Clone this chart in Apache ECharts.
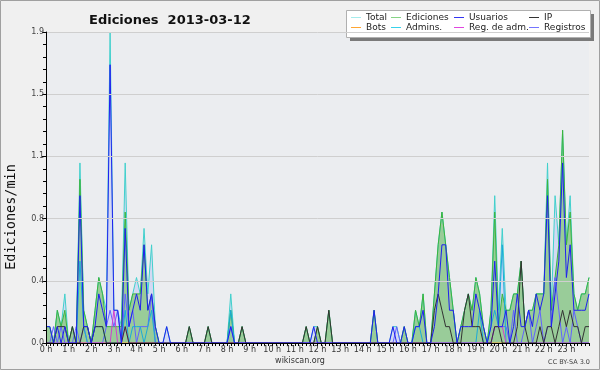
<!DOCTYPE html>
<html><head><meta charset="utf-8">
<script src="https://cdn.jsdelivr.net/npm/echarts@6/dist/echarts.min.js"></script>
<style>html,body{margin:0;padding:0;background:#f0f0f0}#c{width:600px;height:370px}</style>
</head><body><div id="c"></div>
<script>
// 10-minute bins from 0:00 to 24:00 (values are edits per minute)
const hourLabels = ['0 h','1 h','2 h','3 h','4 h','5 h','6 h','7 h','8 h','9 h','10 h','11 h','12 h','13 h','14 h','15 h','16 h','17 h','18 h','19 h','20 h','21 h','22 h','23 h'];
const total = [
0.1,0.1,0,0.2,0.1,0.3, 0,0.1,0,1.1,0.2,0.1, 0,0.2,0.4,0.3,0.2,1.9, 0.2,0.2,0.1,1.1,0.2,0.3,
0.4,0.3,0.7,0.3,0.6,0.1, 0,0,0.1,0,0,0, 0,0,0.1,0,0,0, 0,0.1,0,0,0,0,
0,0.3,0,0,0.1,0, 0,0,0,0,0,0, 0,0,0,0,0,0, 0,0,0,0.1,0,0.1,
0.1,0,0,0.2,0,0, 0,0,0,0,0,0, 0,0,0,0.2,0,0, 0,0,0.1,0.1,0,0.1,
0,0,0.2,0.1,0.3,0, 0,0.3,0.6,0.8,0.6,0.4, 0.2,0,0.1,0.2,0.3,0.2, 0.4,0.3,0.1,0,0.2,0.9,
0.2,0.7,0.2,0.2,0.3,0.3, 0.5,0.1,0.2,0.2,0.3,0.3, 0.3,1.1,0.2,0.9,0.6,1.3, 0.6,0.9,0.3,0.2,0.3,0.3,
0.4];
const edits = [
0.1,0.1,0,0.2,0.1,0.2, 0,0.1,0,1.0,0.2,0.1, 0,0.2,0.4,0.3,0.1,0.1, 0.1,0.1,0.1,0.8,0.2,0.3,
0.3,0.3,0.6,0.2,0.3,0.1, 0,0,0,0,0,0, 0,0,0.1,0,0,0, 0,0.1,0,0,0,0,
0,0.2,0,0,0.1,0, 0,0,0,0,0,0, 0,0,0,0,0,0, 0,0,0,0.1,0,0,
0.1,0,0,0.2,0,0, 0,0,0,0,0,0, 0,0,0,0.2,0,0, 0,0,0,0,0,0.1,
0,0,0.2,0.1,0.3,0, 0,0.3,0.6,0.8,0.6,0.4, 0.2,0,0.1,0.2,0.3,0.2, 0.4,0.3,0.1,0,0.2,0.8,
0.1,0.3,0.2,0.2,0.3,0.3, 0.5,0.1,0.2,0.2,0.3,0.3, 0.3,1.0,0.2,0.4,0.6,1.3, 0.6,0.8,0.3,0.2,0.3,0.3,
0.4];
const users = [
0.1,0.1,0,0.1,0,0.1, 0,0,0,0.9,0.1,0.1, 0,0.1,0.3,0.2,0.1,1.7, 0.2,0.2,0,0.7,0.1,0.2,
0.3,0.2,0.6,0.2,0.3,0.1, 0,0,0.1,0,0,0, 0,0,0,0,0,0, 0,0,0,0,0,0,
0,0.1,0,0,0,0, 0,0,0,0,0,0, 0,0,0,0,0,0, 0,0,0,0,0,0.1,
0,0,0,0,0,0, 0,0,0,0,0,0, 0,0,0,0.2,0,0, 0,0,0.1,0,0,0.1,
0,0,0.1,0.1,0.2,0, 0,0.1,0.3,0.6,0.6,0.2, 0.2,0,0.1,0.1,0.1,0.1, 0.3,0.2,0.1,0,0.1,0.5,
0.1,0.1,0.2,0,0.1,0.3, 0.1,0.1,0.2,0.1,0.3,0.2, 0.3,0.9,0.1,0.3,0.5,1.1, 0.4,0.6,0.2,0.2,0.2,0.2,
0.3];
const ip = [
0,0,0,0.1,0.1,0.1, 0,0.1,0,0,0.1,0.1, 0,0.1,0.1,0.1,0,0, 0,0,0,0.1,0,0,
0,0,0,0,0,0, 0,0,0,0,0,0, 0,0,0.1,0,0,0, 0,0.1,0,0,0,0,
0,0,0,0,0.1,0, 0,0,0,0,0,0, 0,0,0,0,0,0, 0,0,0,0.1,0,0,
0.1,0,0,0.2,0,0, 0,0,0,0,0,0, 0,0,0,0,0,0, 0,0,0,0,0,0,
0,0,0,0,0,0, 0,0.2,0.3,0.2,0.1,0.1, 0,0,0,0.2,0.3,0.1, 0.1,0.1,0,0,0,0.1,
0.1,0,0,0,0,0.1, 0.5,0.1,0,0,0,0.1, 0,0.1,0.1,0,0.1,0.2, 0.1,0.2,0.1,0.1,0,0.1,
0.1];
const bots = [
0,0,0,0,0,0, 0,0,0,0,0,0, 0,0,0,0,0,0, 0,0,0,0,0,0,
0,0,0,0,0,0, 0,0,0,0,0,0, 0,0,0,0,0,0, 0,0,0,0,0,0,
0,0,0,0,0,0, 0,0,0,0,0,0, 0,0,0,0,0,0, 0,0,0,0,0,0,
0,0,0,0,0,0, 0,0,0,0,0,0, 0,0,0,0,0,0, 0,0,0,0,0,0,
0,0,0,0,0,0, 0,0,0,0,0,0, 0,0,0,0,0,0, 0,0,0,0,0,0,
0,0,0,0,0,0, 0,0,0,0,0,0, 0,0,0,0,0,0, 0,0,0,0,0,0,
0];
const admins = [
0,0,0,0,0,0, 0,0,0,0.5,0.1,0, 0,0.1,0.1,0.1,0,0, 0,0,0,0.2,0,0.1,
0.1,0.1,0,0.1,0.2,0, 0,0,0,0,0,0, 0,0,0,0,0,0, 0,0,0,0,0,0,
0,0.2,0,0,0,0, 0,0,0,0,0,0, 0,0,0,0,0,0, 0,0,0,0,0,0,
0,0,0,0,0,0, 0,0,0,0,0,0, 0,0,0,0,0,0, 0,0,0,0,0,0,
0,0,0.1,0.1,0,0, 0,0,0,0,0,0, 0,0,0,0,0,0, 0,0.2,0,0,0.1,0.2,
0.1,0.6,0,0,0,0, 0,0,0,0,0,0, 0,0,0,0,0,0, 0,0,0,0,0,0,
0];
const regAdm = [
0,0,0,0,0,0, 0,0,0,0,0,0, 0,0,0,0,0,0, 0.2,0,0,0.1,0,0,
0,0,0,0,0,0, 0,0,0,0,0,0, 0,0,0,0,0,0, 0,0,0,0,0,0,
0,0,0,0,0,0, 0,0,0,0,0,0, 0,0,0,0,0,0, 0,0,0,0,0,0,
0,0,0,0,0,0, 0,0,0,0,0,0, 0,0,0,0,0,0, 0,0,0,0,0,0,
0,0,0,0,0,0, 0,0,0,0,0,0, 0,0,0,0,0,0, 0,0,0,0,0,0.1,
0.1,0.1,0,0,0,0, 0,0,0,0,0,0, 0,0,0,0,0,0, 0,0,0,0,0,0,
0];
const registros = [
0,0,0.1,0,0.1,0, 0,0,0.1,0,0.1,0, 0,0,0,0,0.1,0.2, 0.1,0.2,0,0.3,0.1,0.2,
0,0.1,0.1,0.1,0.3,0, 0,0,0,0,0,0, 0,0,0,0,0,0, 0,0,0,0,0,0,
0,0.1,0,0,0,0, 0,0,0,0,0,0, 0,0,0,0,0,0, 0,0,0,0,0,0,
0,0,0,0,0,0, 0,0,0,0,0,0, 0,0,0,0,0,0, 0,0,0,0.1,0,0,
0,0,0,0,0,0, 0,0,0,0,0,0, 0,0,0,0,0,0, 0,0,0,0,0,0.1,
0.1,0.1,0.1,0,0.2,0, 0,0.1,0.2,0,0.1,0.2, 0,0.1,0.1,0.4,0.2,0, 0.1,0,0.2,0.1,0,0,
0];
const legendNames = ['Total','Ediciones','Usuarios','IP','Bots','Admins.','Reg. de adm.','Registros'];
const legendColors = ['#a6ecec','#86d486','#3434f2','#333333','#ffa634','#38d2ea','#e046e0','#7474ff'];
const yTicks = [0, 0.38, 0.76, 1.14, 1.52, 1.9];

const pairs = arr => arr.map((v, i) => [i, v]);
const chart = echarts.init(document.getElementById('c'), null, {renderer: 'canvas'});

function lineSeries(name, data, color, extra) {
  return Object.assign({
    name, type: 'line', data: pairs(data), showSymbol: false, symbol: 'none',
    color, lineStyle: {color, width: 1}, animation: false, z: 2
  }, extra || {});
}

const legendPos = [[351,13],[391,13],[454,13],[529,13],[351,23],[391,23],[454,23],[529,23]];
const legends = legendNames.map((n, k) => ({
  data: [{name: n, icon: 'rect', itemStyle: {color: legendColors[k], borderWidth: 0},
          lineStyle: {color: legendColors[k], width: 1}}],
  left: legendPos[k][0], top: legendPos[k][1], padding: 0,
  icon: 'rect', itemWidth: 10, itemHeight: 1, itemGap: 0, selectedMode: false, z: 6,
  itemStyle: {color: legendColors[k], borderWidth: 0},
  lineStyle: {color: legendColors[k], width: 1},
  textStyle: {fontFamily: 'DejaVu Sans', fontSize: 9, color: '#222', padding: [0,0,0,0]}
}));

chart.setOption({
  backgroundColor: '#f0f0f0',
  animation: false,
  title: {text: 'Ediciones  2013-03-12', left: 84, top: 9,
    textStyle: {fontFamily: 'DejaVu Sans', fontWeight: 'bold', fontSize: 13, color: '#111'}},
  legend: legends,
  grid: {left: 46, right: 11, top: 32, bottom: 27, show: true, backgroundColor: '#ebedf0', borderWidth: 0},
  xAxis: {
    type: 'value', min: 0, max: 144, interval: 6, z: 10,
    axisLine: {show: true, onZero: false, lineStyle: {color: '#000', width: 1}},
    axisTick: {show: true, length: 3, lineStyle: {color: '#000'}},
    minorTick: {show: true, splitNumber: 6, length: 3, lineStyle: {color: '#000'}},
    splitLine: {show: false},
    axisLabel: {formatter: v => hourLabels[v / 6] || '', showMaxLabel: false, fontFamily: 'DejaVu Sans', fontSize: 8, color: '#333', margin: 3}
  },
  yAxis: {
    type: 'value', min: yTicks[0], max: yTicks[yTicks.length - 1], interval: yTicks[1], z: 10,
    axisLine: {show: true, lineStyle: {color: '#000', width: 1}},
    axisTick: {show: true, length: 4, lineStyle: {color: '#000'}},
    minorTick: {show: true, splitNumber: 5, length: 3, lineStyle: {color: '#000'}},
    splitLine: {show: true, lineStyle: {color: '#cfcfcf', width: 1}},
    axisLabel: {formatter: v => v.toFixed(1), fontFamily: 'DejaVu Sans', fontSize: 8, color: '#444', margin: 2}
  },
  graphic: [
    {type: 'rect', shape: {x: 0.5, y: 0.5, width: 599, height: 369}, style: {fill: 'none', stroke: '#a0a0a0', lineWidth: 1}, z: 1},
    {type: 'rect', shape: {x: 350, y: 14, width: 244, height: 27}, style: {fill: '#7a7a7a'}, z: 3},
    {type: 'rect', shape: {x: 346.5, y: 10.5, width: 244, height: 27}, style: {fill: '#ffffff', stroke: '#b0b0b0', lineWidth: 1}, z: 4},
    {type: 'text', x: 11, y: 217, rotation: Math.PI / 2, style: {text: 'Ediciones/min', fontFamily: 'DejaVu Sans Mono', fontSize: 13.5, fill: '#111', align: 'center', verticalAlign: 'middle'}, z: 5},
    {type: 'text', x: 300, y: 361, style: {text: 'wikiscan.org', fontFamily: 'DejaVu Sans', fontSize: 8, fill: '#333', align: 'center', verticalAlign: 'middle'}, z: 5},
    {type: 'text', x: 590, y: 362, style: {text: 'CC BY-SA 3.0', fontFamily: 'DejaVu Sans', fontSize: 6.5, fill: '#444', align: 'right', verticalAlign: 'middle'}, z: 5}
  ],
  series: [
    lineSeries('Total', total, '#40d0cc', {areaStyle: {color: '#d3d9f3', opacity: 1}}),
    lineSeries('Ediciones', edits, '#3cb43c', {areaStyle: {color: '#99cc99', opacity: 1}}),
    lineSeries('Bots', bots, '#ffa634'),
    lineSeries('Registros', registros, '#6262ff'),
    lineSeries('Admins.', admins, '#1aaad8'),
    lineSeries('Reg. de adm.', regAdm, '#d040d0'),
    lineSeries('IP', ip, '#333333'),
    lineSeries('Usuarios', users, '#1f1ff0')
  ]
});
</script></body></html>
